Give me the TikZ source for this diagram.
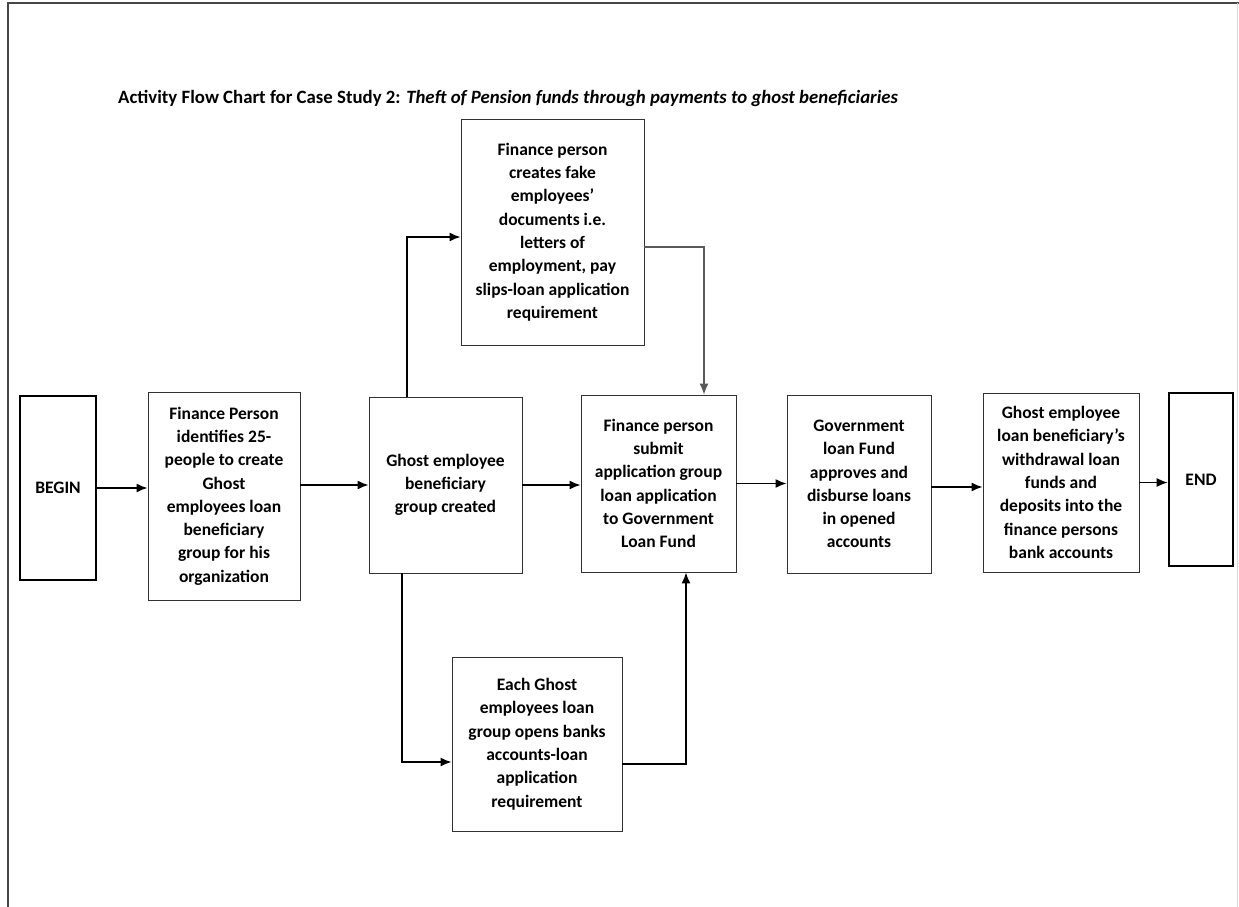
\documentclass[tikz,border=0pt]{standalone}
\usepackage{fontspec}
\setmainfont{Carlito}
\usepackage{tikz}
\usetikzlibrary{calc}
\usetikzlibrary{arrows.meta}
\usetikzlibrary{positioning}
\definecolor{framegray}{RGB}{70, 70, 70}
\definecolor{boxgray}{RGB}{50, 50, 50}
\definecolor{linkgray}{RGB}{90, 90, 90}

\tikzset{
    box/.style={draw=boxgray, line width=0.9pt, align=center, inner sep=0pt,
                font=\bfseries\fontsize{17.5}{23.3}\selectfont},
    term/.style={box, draw=black, line width=2.6pt},
    flow/.style={-{Latex[length=11pt, width=9pt]}, line width=1.5pt},
}

\begin{document}
\begin{tikzpicture}[x=1pt, y=-1pt]
            \useasboundingbox (0,0) rectangle (1239,907);
            % Page frame
            \draw[color=framegray, line width=1.4pt] (8,907) -- (8,3) -- (1239,3);
            \draw[color=black!15, line width=0.6pt]  (1237,3) -- (1237,907);
            % Title
            \node[anchor=base west, inner sep=0pt, font=\bfseries\fontsize{18.8}{22}\selectfont] (title) at (118,103)
                 {Activity Flow Chart for Case Study 2: \textit{Theft of Pension funds through payments to ghost beneficiaries}};
            % Main row
            \node[term, minimum width=76,  minimum height=184] (begin)    at (58,488)     {BEGIN};
            \node[box,  minimum width=152, minimum height=208] (identify) at (224,496)    {Finance Person\\identifies 25-\\people to create\\Ghost\\employees loan\\beneficiary\\group for his\\organization};
            \node[box,  minimum width=153, minimum height=176] (created)  at (445.5,485)  {Ghost employee\\beneficiary\\group created};
            \node[box,  minimum width=155, minimum height=177] (submit)   at (658.5,483.5) {Finance person\\submit\\application group\\loan application\\to Government\\Loan Fund};
            \node[box,  minimum width=144, minimum height=178] (approve)  at (859,484)    {Government\\loan Fund\\approves and\\disburse loans\\in opened\\accounts};
            \node[box,  minimum width=156, minimum height=179] (withdraw) at (1061,482.5) {Ghost employee\\loan beneficiary’s\\withdrawal loan\\funds and\\deposits into the\\finance persons\\bank accounts};
            \node[term, minimum width=64,  minimum height=173] (end)      at (1201,479.5) {END};
            % Side branches
            \node[box,  minimum width=183, minimum height=226] (fakedocs) at (552.5,232)  {Finance person\\creates fake\\employees’\\documents i.e.\\letters of\\employment, pay\\slips-loan application\\requirement};
            \node[box,  minimum width=170, minimum height=174] (banks)    at (537,744)    {Each Ghost\\employees loan\\group opens banks\\accounts-loan\\application\\requirement};
            % Straight flow
            \draw[flow] (begin.east)    -- (begin.east -| identify.west);
            \draw[flow] (identify.east |- created.west) -- (created.west);
            \draw[flow] (created.east)  -- (created.east -| submit.west);
            \draw[flow] (submit.east)   -- (submit.east -| approve.west);
            \draw[flow] ([yshift=-3]approve.east) -- ([yshift=-3]approve.east -| withdraw.west);
            \draw[flow] (withdraw.east) -- (withdraw.east -| end.west);
            % Branch over the top
            \draw[flow] ([xshift=-38.5]created.north) |- ([yshift=-5]fakedocs.west);
            \draw[flow, color=linkgray, line width=1.1pt] ([yshift=-15]fakedocs.east) -| ([xshift=45.5]submit.north);
            % Branch underneath
            \draw[flow] ([xshift=-43.5]created.south) |- ([yshift=-18]banks.west);
            \draw[flow] ([yshift=-20]banks.east) -| ([xshift=27.5]submit.south);
        \end{tikzpicture}
\end{document}
